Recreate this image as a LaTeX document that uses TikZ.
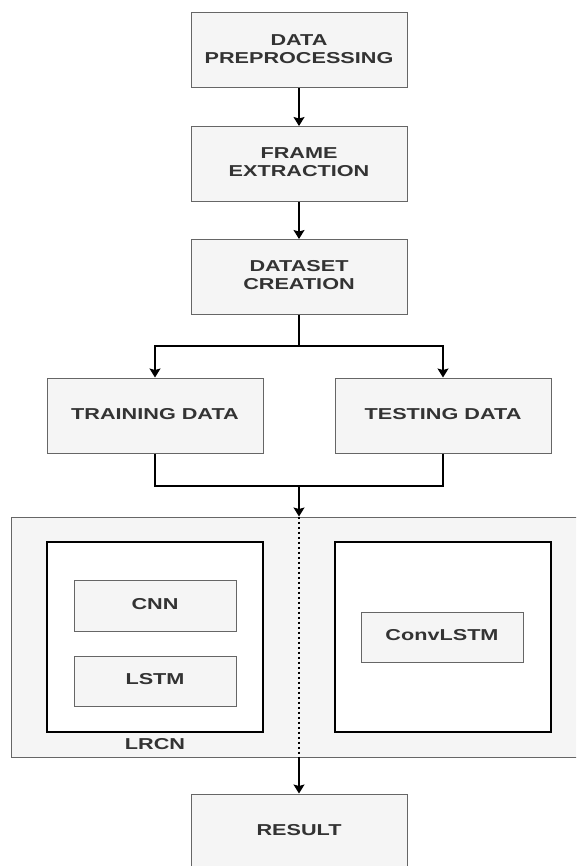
\documentclass[tikz,border=0pt]{standalone}
\usepackage{fontspec}
\setmainfont{Liberation Sans}
\usepackage{graphicx}
\usetikzlibrary{arrows.meta}
\definecolor{boxfill}{HTML}{F5F5F5}
\definecolor{boxline}{HTML}{666666}
\definecolor{boxtext}{HTML}{333333}
\newcommand{\wtext}[1]{\raisebox{-1.5pt}{\scalebox{1.37}[1]{\begin{tabular}{@{}c@{}}#1\end{tabular}}}}

\begin{document}
\begin{tikzpicture}[x=1pt,y=-1pt,
  box/.style={draw=boxline, fill=boxfill, line width=1pt, text=boxtext, font=\fontsize{15.8}{18}\selectfont\bfseries, inner sep=0pt, minimum width=216pt, minimum height=75pt},
  smallbox/.style={box, minimum width=162pt, minimum height=50pt},
  holder/.style={draw=black, fill=white, line width=1.2pt, inner sep=0pt, minimum width=216pt, minimum height=190pt},
  arr/.style={-{Stealth[length=9pt,width=11pt,inset=1.5pt]}, line width=1.3pt},
  link/.style={line width=1.3pt}]
\useasboundingbox (0,0) rectangle (576,866);
\clip (0,0) rectangle (576,866);

\node[box] (prep) at (299,50.5) {\wtext{DATA\\PREPROCESSING}};
\node[box] (frame) at (299,164) {\wtext{FRAME\\EXTRACTION}};
\node[box] (dataset) at (299,277) {\wtext{DATASET\\CREATION}};

\node[box] (train) at (155,415.5) {\wtext{TRAINING DATA}};
\node[box] (test) at (443,415.5) {\wtext{TESTING DATA}};

\node[box, minimum width=579pt, minimum height=240pt] (model) at (300.5,637) {};
\node[holder] (lrcn) at (155,637) {};
\node[holder] (conv) at (443,637) {};
\node[smallbox, minimum height=51pt] (cnn) at (155,605.5) {\wtext{CNN}};
\node[smallbox] (lstm) at (155,681) {\wtext{LSTM}};
\node[smallbox] (convlstm) at (442,637) {\wtext{ConvLSTM}};
\node[text=boxtext, font=\fontsize{15.8}{18}\selectfont\bfseries, inner sep=0pt] (lrcnname) at (155,746) {\wtext{LRCN}};

\node[box] (result) at (299,831.5) {\wtext{RESULT}};

\coordinate (split) at (299,346);
\coordinate (join) at (299,486);

\draw[arr] (prep) -- (frame);
\draw[arr] (frame) -- (dataset);

\draw[link] (dataset) -- (split);
\draw[arr] (split) -| (train);
\draw[arr] (split) -| (test);

\draw[link] (train) |- (join);
\draw[link] (test) |- (join);
\draw[arr] (join) -- (join |- model.north);
\draw[link, dash pattern=on 2.5pt off 2.5pt] (join |- model.north) -- (join |- model.south);
\draw[arr] (join |- model.south) -- (result);
\end{tikzpicture}
\end{document}
